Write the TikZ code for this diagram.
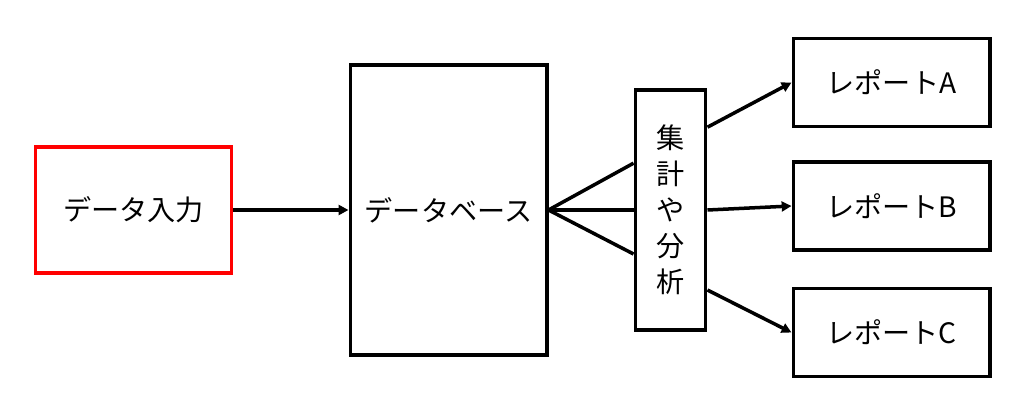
\documentclass[tikz,border=0pt]{standalone}
\usepackage{fontspec}
\setmainfont{Noto Sans CJK JP}
\usetikzlibrary{arrows.meta}
\tikzset{
  box/.style={
    draw=black,
    line width=2.8pt,
    minimum width=4.9cm,
    inner sep=0pt,
    font=\fontsize{20}{25.5}\selectfont
  },
  input box/.style={
    box,
    draw=red
  },
  link/.style={
    line width=2.5pt
  },
  flow/.style={
    -{Triangle[length=7pt,width=7pt]},
    line width=2.5pt
  }
}
\begin{document}
\begin{tikzpicture}[x=0.025cm, y=-0.025cm]
    \useasboundingbox (0,0) rectangle (1024,406);

    % 入力とデータベース
    \node[input box, minimum height=3.15cm] (input) at (133.5, 210) {データ入力};
    \node[box, minimum height=7.25cm] (database) at (448.5, 210) {データベース};

    % 集計や分析 (縦書き)
    \node[box, minimum width=1.75cm, minimum height=6cm, align=center] (analysis) at (670.5, 210)
      {集\\計\\や\\分\\析};

    % レポート
    \node[box, minimum height=2.2cm] (reportA) at (891.5, 82.5) {レポートA};
    \node[box, minimum height=2.2cm] (reportB) at (891.5, 206) {レポートB};
    \node[box, minimum height=2.2cm] (reportC) at (891.5, 332.5) {レポートC};

    \draw[flow] (input) -- (database);

    % データベースから分析へ
    \draw[link] (database.east) -- ([yshift=1.17cm]analysis.west);
    \draw[link] (database.east) -- (analysis.west);
    \draw[link] (database.east) -- ([yshift=-1.1cm]analysis.west);

    % 分析からレポートへ
    \draw[flow] ([yshift=2.07cm]analysis.east) -- (reportA.west);
    \draw[flow] (analysis.east) -- (reportB.west);
    \draw[flow] ([yshift=-2cm]analysis.east) -- (reportC.west);

\end{tikzpicture}
\end{document}
